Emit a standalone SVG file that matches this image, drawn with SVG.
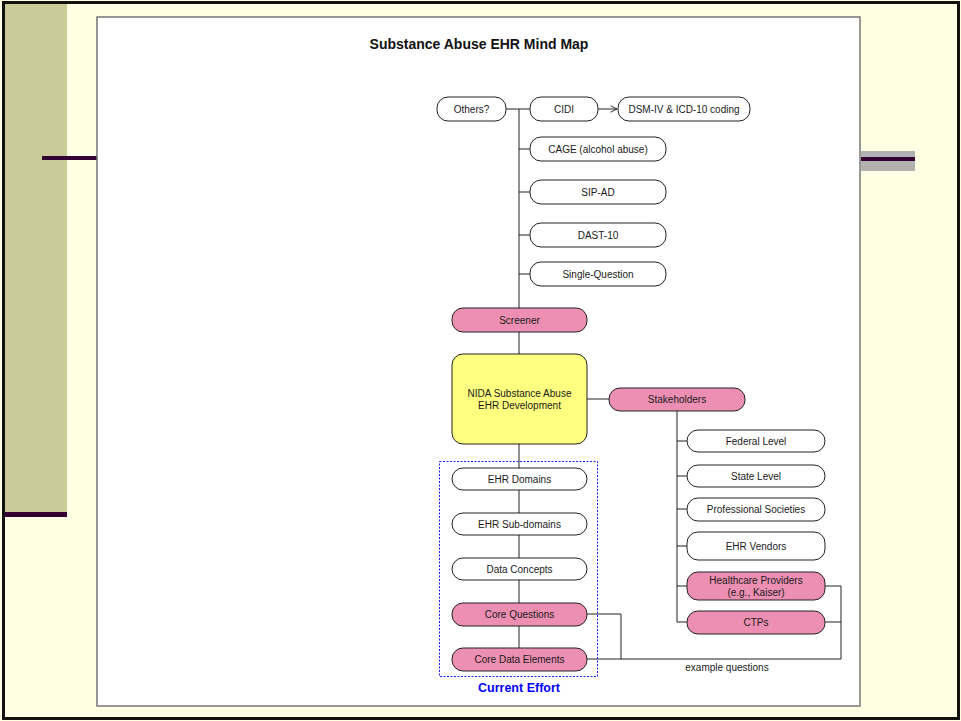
<svg xmlns="http://www.w3.org/2000/svg" width="961" height="721" viewBox="0 0 961 721">
<defs>
<style>
.n{stroke:#222;stroke-width:1;fill:#fff}
.p{fill:#EC8FB2}
.y{fill:#FFFF80}
.t{font-family:"Liberation Sans",Arial,sans-serif;font-size:10px;fill:#1a1a1a;text-anchor:middle}
.c{fill:none;stroke:#222;stroke-width:1}
</style>
<marker id="arr" viewBox="0 0 10 10" refX="9" refY="5" markerWidth="8" markerHeight="8" orient="auto" markerUnits="userSpaceOnUse">
<path d="M1,1 L9,5 L1,9" fill="none" stroke="#222" stroke-width="1.2"/>
</marker>
</defs>
<rect x="0" y="0" width="961" height="721" fill="#FFFFE3"/>
<rect x="5" y="4" width="62" height="508" fill="#CBCB9A"/>
<rect x="5" y="512" width="62" height="5" fill="#330033"/>
<rect x="42" y="156" width="56" height="4" fill="#330033"/>
<rect x="861" y="151" width="54" height="20" fill="#B2B2B2"/>
<rect x="861" y="157" width="54" height="4" fill="#330033"/>
<rect x="3.5" y="2.5" width="955" height="716" fill="none" stroke="#111" stroke-width="3"/>
<rect x="97" y="17" width="763" height="689" fill="#fff" stroke="#777" stroke-width="1.5"/>
<text x="479" y="49" style="font-family:'Liberation Sans',Arial,sans-serif;font-size:14px;font-weight:bold;fill:#111" text-anchor="middle">Substance Abuse EHR Mind Map</text>

<g id="connectors">
<path class="c" d="M506,109 H530"/>
<path class="c" d="M519,109 V308"/>
<path class="c" d="M519,149 H530 M519,192 H530 M519,235 H530 M519,274 H530"/>
<path class="c" d="M598,109 H617" marker-end="url(#arr)"/>
<path class="c" d="M519,332 V354"/>
<path class="c" d="M519,444 V648"/>
<path class="c" d="M587,399 H609"/>
<path class="c" d="M677,411 V622"/>
<path class="c" d="M677,441 H687 M677,476 H687 M677,509 H687 M677,546 H687 M677,586 H687 M677,622 H687"/>
<path class="c" d="M825,586 H841 V659 H587"/>
<path class="c" d="M825,622 H841"/>
<path class="c" d="M587,614 H621 V659"/>
<text class="t" x="727" y="671">example questions</text>
</g>

<g id="others"><rect class="n" x="437" y="97" width="69" height="24" rx="11"/><text class="t" x="471.5" y="112.5">Others?</text></g>
<g id="cidi"><rect class="n" x="530" y="97" width="68" height="24" rx="11"/><text class="t" x="564" y="112.5">CIDI</text></g>
<g id="dsm"><rect class="n" x="618" y="97" width="132" height="24" rx="11"/><text class="t" x="684" y="112.5">DSM-IV &amp; ICD-10 coding</text></g>
<g id="cage"><rect class="n" x="530" y="137" width="136" height="24" rx="11"/><text class="t" x="598" y="152.5">CAGE (alcohol abuse)</text></g>
<g id="sipad"><rect class="n" x="530" y="180" width="136" height="24" rx="11"/><text class="t" x="598" y="195.5">SIP-AD</text></g>
<g id="dast"><rect class="n" x="530" y="223" width="136" height="24" rx="11"/><text class="t" x="598" y="238.5">DAST-10</text></g>
<g id="single"><rect class="n" x="530" y="262" width="136" height="24" rx="11"/><text class="t" x="598" y="277.5">Single-Question</text></g>
<g id="screener"><rect class="n p" x="452" y="308" width="135" height="24" rx="11"/><text class="t" x="519.5" y="323.5">Screener</text></g>
<g id="nida"><rect class="n y" x="452" y="354" width="135" height="90" rx="11"/><text class="t" x="519.5" y="396.5">NIDA Substance Abuse</text><text class="t" x="519.5" y="408.5">EHR Development</text></g>
<g id="stakeholders"><rect class="n p" x="609" y="388" width="136" height="23" rx="11"/><text class="t" x="677" y="403">Stakeholders</text></g>
<g id="federal"><rect class="n" x="687" y="430" width="138" height="22" rx="11"/><text class="t" x="756" y="444.5">Federal Level</text></g>
<g id="state"><rect class="n" x="687" y="465" width="138" height="22" rx="11"/><text class="t" x="756" y="479.5">State Level</text></g>
<g id="profsoc"><rect class="n" x="687" y="498" width="138" height="23" rx="11"/><text class="t" x="756" y="513">Professional Societies</text></g>
<g id="vendors"><rect class="n" x="687" y="532" width="138" height="28" rx="11"/><text class="t" x="756" y="549.5">EHR Vendors</text></g>
<g id="providers"><rect class="n p" x="687" y="572" width="138" height="28" rx="11"/><text class="t" x="756" y="583.5">Healthcare Providers</text><text class="t" x="756" y="595.5">(e.g., Kaiser)</text></g>
<g id="ctps"><rect class="n p" x="687" y="611" width="138" height="23" rx="11"/><text class="t" x="756" y="626">CTPs</text></g>
<g id="current-effort">
<rect x="439.5" y="461.5" width="158" height="215" fill="none" stroke="#1A1AFF" stroke-width="1" stroke-dasharray="2,1.5"/>
<text x="519" y="692" style="font-family:'Liberation Sans',Arial,sans-serif;font-size:12.5px;font-weight:bold;fill:#0000FF" text-anchor="middle">Current Effort</text>
</g>
<g id="domains"><rect class="n" x="452" y="468" width="135" height="22" rx="11"/><text class="t" x="519.5" y="482.5">EHR Domains</text></g>
<g id="subdomains"><rect class="n" x="452" y="513" width="135" height="22" rx="11"/><text class="t" x="519.5" y="527.5">EHR Sub-domains</text></g>
<g id="concepts"><rect class="n" x="452" y="558" width="135" height="22" rx="11"/><text class="t" x="519.5" y="572.5">Data Concepts</text></g>
<g id="corequestions"><rect class="n p" x="452" y="603" width="135" height="23" rx="11"/><text class="t" x="519.5" y="618">Core Questions</text></g>
<g id="coredata"><rect class="n p" x="452" y="648" width="135" height="23" rx="11"/><text class="t" x="519.5" y="663">Core Data Elements</text></g>
</svg>
